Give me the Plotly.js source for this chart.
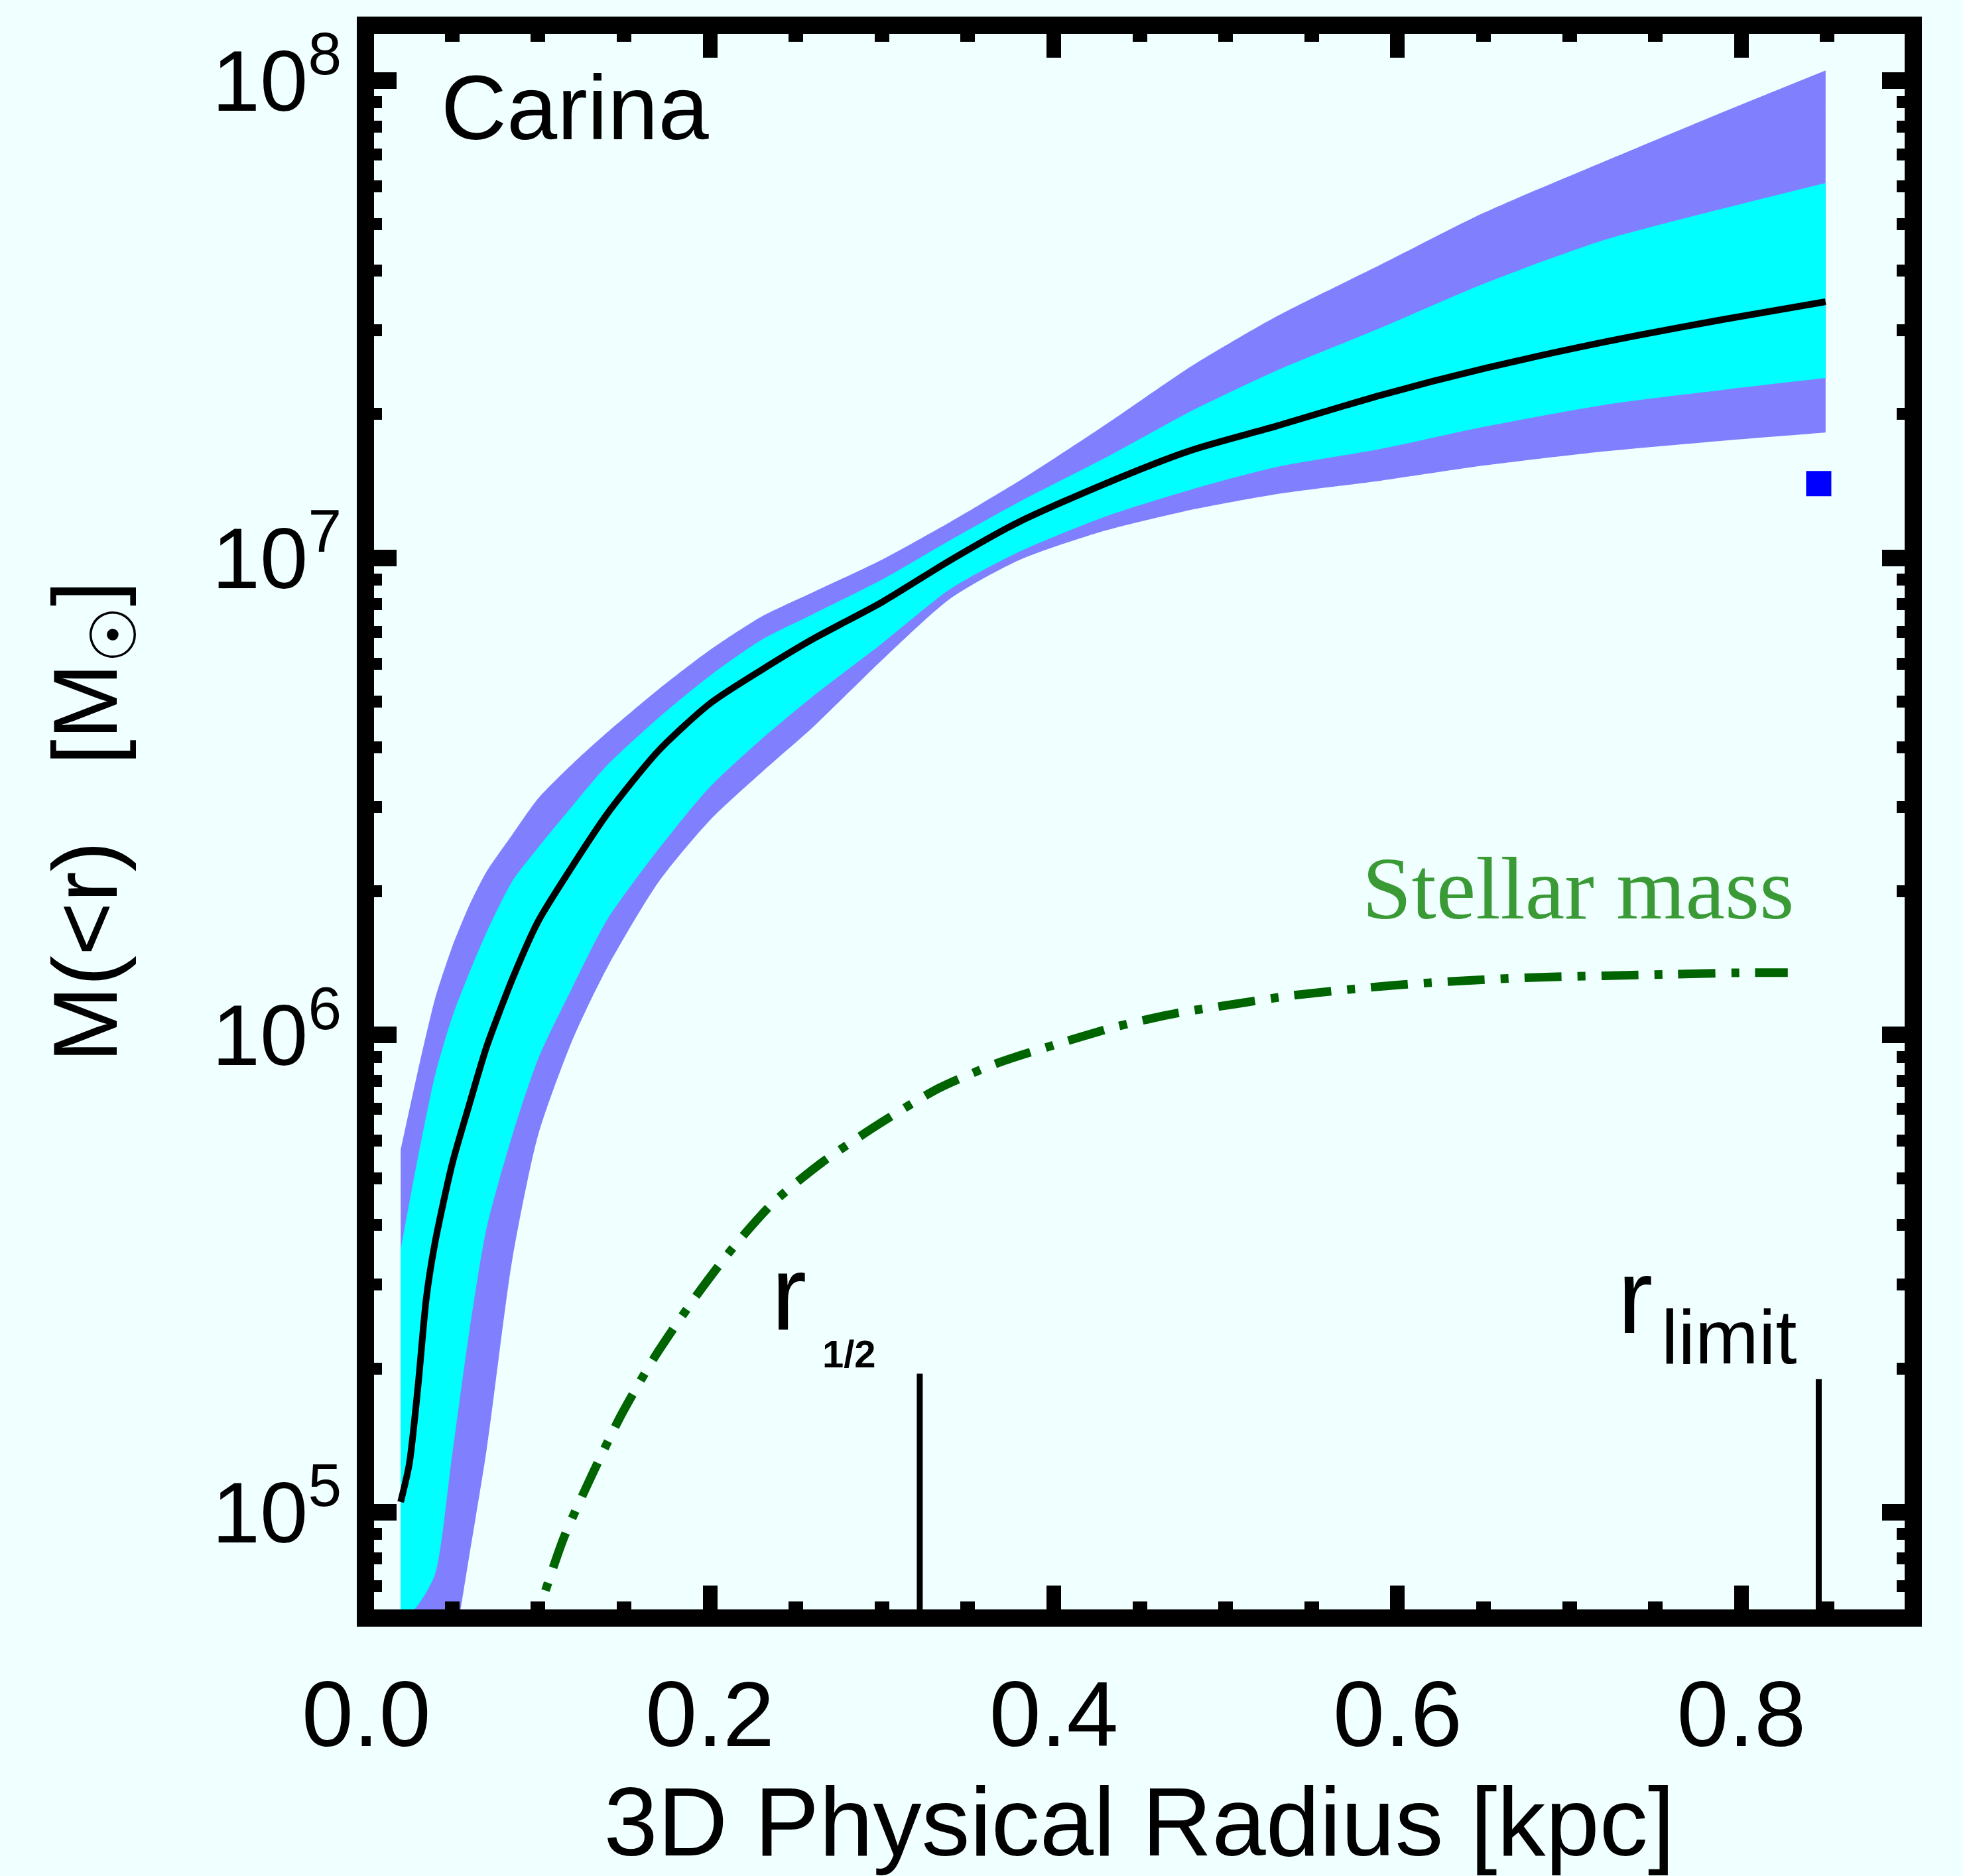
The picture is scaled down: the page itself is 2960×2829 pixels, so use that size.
<!DOCTYPE html>
<html>
<head>
<meta charset="utf-8">
<script src="https://cdn.plot.ly/plotly-3.0.1.min.js"></script>
<style>html,body{margin:0;padding:0;background:#f0ffff;}</style>
</head>
<body>
<div id="chart" style="width:2960px;height:2829px;"></div>
<script>
// ---- data (radius in kpc, mass in solar masses) ----
const rGrid = [0.020, 0.030, 0.040, 0.050, 0.060, 0.070, 0.085, 0.100, 0.120, 0.140, 0.170, 0.200, 0.230, 0.260, 0.300, 0.340, 0.380, 0.430, 0.480, 0.530, 0.590, 0.650, 0.720, 0.790, 0.849];
const upper95 = [5.75e5, 8.39e5, 1.19e6, 1.53e6, 1.87e6, 2.20e6, 2.63e6, 3.13e6, 3.70e6, 4.30e6, 5.30e6, 6.41e6, 7.53e6, 8.47e6, 9.91e6, 1.19e7, 1.45e7, 1.90e7, 2.52e7, 3.21e7, 4.11e7, 5.28e7, 6.76e7, 8.61e7, 1.05e8];
const upper68 = [3.55e5, 5.52e5, 8.22e5, 1.09e6, 1.35e6, 1.64e6, 2.10e6, 2.47e6, 3.02e6, 3.67e6, 4.62e6, 5.66e6, 6.73e6, 7.62e6, 9.00e6, 1.09e7, 1.31e7, 1.62e7, 2.03e7, 2.47e7, 3.03e7, 3.75e7, 4.63e7, 5.40e7, 6.10e7];
const lower68 = [5.89e4, 6.38e4, 7.41e4, 1.32e5, 2.40e5, 3.94e5, 6.17e5, 8.91e5, 1.26e6, 1.74e6, 2.45e6, 3.31e6, 4.17e6, 5.13e6, 6.61e6, 8.61e6, 1.03e7, 1.22e7, 1.39e7, 1.55e7, 1.69e7, 1.88e7, 2.09e7, 2.25e7, 2.38e7];
const lower95 = [2.00e4, 2.82e4, 3.80e4, 5.01e4, 8.13e4, 1.35e5, 3.39e5, 6.17e5, 9.77e5, 1.38e6, 2.09e6, 2.82e6, 3.55e6, 4.42e6, 6.10e6, 8.22e6, 9.89e6, 1.14e7, 1.26e7, 1.36e7, 1.45e7, 1.56e7, 1.67e7, 1.76e7, 1.83e7];

const rMedian = [0.020, 0.025, 0.030, 0.035, 0.040, 0.050, 0.060, 0.070, 0.085, 0.100, 0.120, 0.140, 0.170, 0.200, 0.230, 0.260, 0.300, 0.340, 0.380, 0.430, 0.480, 0.530, 0.590, 0.650, 0.720, 0.790, 0.849];
const massMedian = [1.05e5, 1.26e5, 1.82e5, 2.82e5, 3.67e5, 5.37e5, 7.16e5, 9.44e5, 1.31e6, 1.73e6, 2.26e6, 2.90e6, 3.94e6, 4.95e6, 5.82e6, 6.76e6, 8.07e6, 9.89e6, 1.19e7, 1.43e7, 1.68e7, 1.89e7, 2.19e7, 2.49e7, 2.83e7, 3.16e7, 3.44e7];

const rStellar = [0.095, 0.101, 0.115, 0.131, 0.148, 0.168, 0.192, 0.213, 0.237, 0.265, 0.299, 0.333, 0.368, 0.402, 0.436, 0.471, 0.505, 0.539, 0.597, 0.640, 0.680, 0.720, 0.760, 0.800, 0.827];
const massStellar = [5.37e4, 6.31e4, 8.85e4, 1.19e5, 1.59e5, 2.12e5, 2.84e5, 3.57e5, 4.46e5, 5.40e5, 6.53e5, 7.73e5, 8.75e5, 9.57e5, 1.04e6, 1.11e6, 1.16e6, 1.21e6, 1.27e6, 1.30e6, 1.32e6, 1.33e6, 1.34e6, 1.35e6, 1.35e6];

const markerRadii = [0.322, 0.845];          // r_1/2, r_limit
const markerTops = [1.95e5, 1.90e5];
const markerBottom = 1.0e4;

const obsR = [0.845];
const obsMass = [1.43e7];

const xTickVals = [0.0, 0.2, 0.4, 0.6, 0.8];
const xTickText = ['0.0', '0.2', '0.4', '0.6', '0.8'];
const yTickVals = [1e5, 1e6, 1e7, 1e8];
const yTickText = ['10<sup>5</sup>', '10<sup>6</sup>', '10<sup>7</sup>', '10<sup>8</sup>'];

// minor log tick positions 2..9 per decade
const yMinor = [];
[1e4, 1e5, 1e6, 1e7, 1e8].forEach(d => { for (let k = 2; k <= 9; k++) yMinor.push(k * d); });

const SPL = {shape: 'spline', smoothing: 0.7};

const traces = [
  {x: rGrid, y: lower95, type: 'scatter', mode: 'lines',
   line: Object.assign({width: 0, color: '#8080ff'}, SPL), hoverinfo: 'skip'},
  {x: rGrid, y: upper95, type: 'scatter', mode: 'lines', fill: 'tonexty', fillcolor: '#8080ff',
   line: Object.assign({width: 0, color: '#8080ff'}, SPL), hoverinfo: 'skip'},
  {x: rGrid, y: lower68, type: 'scatter', mode: 'lines',
   line: Object.assign({width: 0, color: '#00ffff'}, SPL), hoverinfo: 'skip'},
  {x: rGrid, y: upper68, type: 'scatter', mode: 'lines', fill: 'tonexty', fillcolor: '#00ffff',
   line: Object.assign({width: 0, color: '#00ffff'}, SPL), hoverinfo: 'skip'},
  {x: rMedian, y: massMedian, type: 'scatter', mode: 'lines',
   line: Object.assign({color: '#000000', width: 10}, SPL)},
  {x: rStellar, y: massStellar, type: 'scatter', mode: 'lines',
   line: Object.assign({color: '#006400', width: 13, dash: '56px,24px,12px,24px'}, SPL)},
  {x: [markerRadii[0], markerRadii[0]], y: [markerBottom, markerTops[0]], type: 'scatter', mode: 'lines',
   line: {color: '#000000', width: 9}},
  {x: [markerRadii[1], markerRadii[1]], y: [markerBottom, markerTops[1]], type: 'scatter', mode: 'lines',
   line: {color: '#000000', width: 9}},
  {x: obsR, y: obsMass, type: 'scatter', mode: 'markers',
   marker: {symbol: 'square', size: 38, color: '#0000ff', line: {width: 0}}}
];

const FONT = 'Liberation Sans, Arial, Helvetica, sans-serif';

const layout = {
  width: 2960, height: 2829,
  margin: {l: 551, r: 75, t: 38, b: 389, pad: 0},
  paper_bgcolor: '#f0ffff', plot_bgcolor: '#f0ffff',
  showlegend: false,
  font: {family: FONT, color: '#000000'},
  xaxis: {
    range: [-0.0005, 0.9], showgrid: false, zeroline: false, showline: false,
    tickmode: 'array', tickvals: xTickVals, ticktext: xTickText,
    ticks: 'inside', ticklen: 49, tickwidth: 22, tickcolor: '#000000',
    mirror: 'ticks', tickfont: {family: FONT, size: 140, color: '#000000'},
    ticklabelstandoff: 52,
    minor: {dtick: 0.05, tick0: 0, ticks: 'inside', ticklen: 25, tickwidth: 22, tickcolor: '#000000', showgrid: false},
    title: {text: '3D Physical Radius [kpc]', font: {family: FONT, size: 146, color: '#000000'}, standoff: 90},
    automargin: false
  },
  yaxis: {
    type: 'log', range: [4.778, 8.116], showgrid: false, zeroline: false, showline: false,
    tickmode: 'array', tickvals: yTickVals, ticktext: yTickText,
    ticks: 'inside', ticklen: 47, tickwidth: 25, tickcolor: '#000000',
    mirror: 'ticks', tickfont: {family: FONT, size: 130, color: '#000000'},
    ticklabelstandoff: 35,
    minor: {tickmode: 'array', tickvals: yMinor, ticks: 'inside', ticklen: 25, tickwidth: 18, tickcolor: '#000000', showgrid: false},
    title: {text: 'M(&lt;r)\u00a0\u00a0\u00a0[M<sub><span style="font-size:96px">\u2609</span></sub>]', font: {family: FONT, size: 138, color: '#000000'}, standoff: 96},
    automargin: false
  },
  shapes: [
    {type: 'rect', xref: 'paper', yref: 'paper', x0: 0, x1: 1, y0: 0, y1: 1,
     line: {color: '#000000', width: 26}, fillcolor: 'rgba(0,0,0,0)', layer: 'above'}
  ],
  annotations: [
    {text: 'Carina', xref: 'paper', yref: 'paper', x: 0.048, y: 0.948, xanchor: 'left', yanchor: 'middle',
     showarrow: false, font: {family: FONT, size: 137, color: '#000000'}},
    {text: 'Stellar mass', xref: 'paper', yref: 'paper', x: 0.643, y: 0.458, xanchor: 'left', yanchor: 'middle',
     showarrow: false, font: {family: 'Liberation Serif, Times New Roman, serif', size: 134, color: '#3a9a35'}},
    {text: 'r', xref: 'paper', yref: 'paper', x: 0.2612, y: 0.2043, xanchor: 'left', yanchor: 'middle',
     showarrow: false, font: {family: FONT, size: 160, color: '#000000'}},
    {text: '<b>1/2</b>', xref: 'paper', yref: 'paper', x: 0.2945, y: 0.1659, xanchor: 'left', yanchor: 'middle',
     showarrow: false, font: {family: FONT, size: 58, color: '#000000'}},
    {text: 'r', xref: 'paper', yref: 'paper', x: 0.8080, y: 0.2020, xanchor: 'left', yanchor: 'middle',
     showarrow: false, font: {family: FONT, size: 160, color: '#000000'}},
    {text: 'limit', xref: 'paper', yref: 'paper', x: 0.8365, y: 0.1765, xanchor: 'left', yanchor: 'middle',
     showarrow: false, font: {family: FONT, size: 115, color: '#000000'}}
  ]
};

Plotly.newPlot('chart', traces, layout, {staticPlot: true, displayModeBar: false});
</script>
</body>
</html>
